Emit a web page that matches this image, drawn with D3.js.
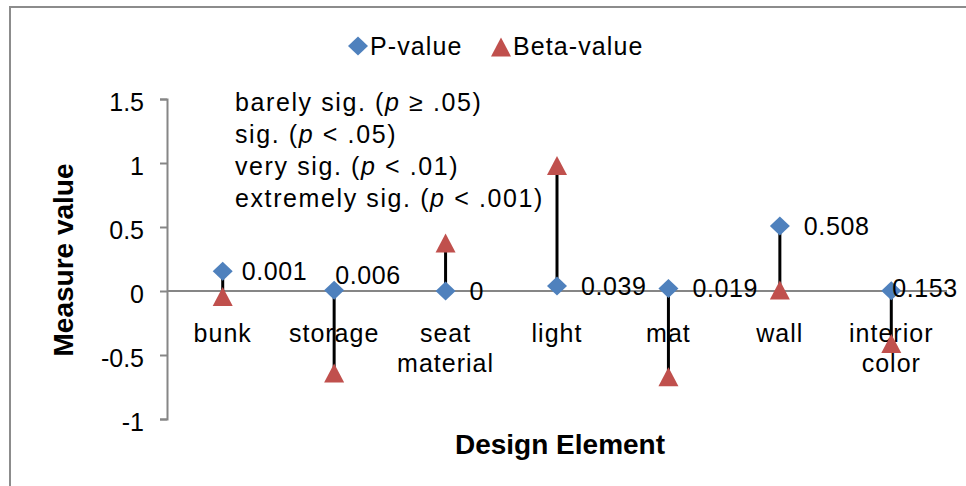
<!DOCTYPE html>
<html>
<head>
<meta charset="utf-8">
<script src="https://cdn.jsdelivr.net/npm/d3@7"></script>
<style>
  body { margin: 0; background: #fff; }
  svg { display: block; font-family: Arial, "Liberation Sans", sans-serif; }
</style>
</head>
<body>
<div id="chart"></div>
<script>
// data
const categories = ["bunk", "storage", "seat material", "light", "mat", "wall", "interior color"];
const pValues = [0.155, 0.006, 0, 0.039, 0.019, 0.508, 0.001];
const pLabels = ["0.001", "0.006", "0", "0.039", "0.019", "0.508", "0.153"];
const betaValues = [-0.043, -0.64, 0.375, 0.98, -0.67, 0.008, -0.41];
const yTicks = [-1, -0.5, 0, 0.5, 1, 1.5];
const seriesNames = ["P-value", "Beta-value"];
const notes = [
    ["barely sig. (", "p", " \u2265 .05)"],
    ["sig. (", "p", " < .05)"],
    ["very sig. (", "p", " < .01)"],
    ["extremely sig. (", "p", " < .001)"]
];

let WIDTH = 966,
    HEIGHT = 486;

const blue = "#4F81BD",
      red = "#C0504D",
      axisGrey = "#868686";

let svg = d3.select("#chart")
    .append("svg")
    .attr("width", WIDTH)
    .attr("height", HEIGHT);

// chart border (runs off the right/bottom edge like the original)
svg.append("rect")
    .attr("x", 10).attr("y", 7)
    .attr("width", 980).attr("height", 500)
    .attr("fill", "#fff")
    .attr("stroke", "#8c8c8c")
    .attr("stroke-width", 2);

let x = d3.scaleBand().domain(categories).range([167, 947]);
let y = d3.scaleLinear().domain([-1, 1.5]).range([419, 99]);
const cx = d => x(d) + x.bandwidth() / 2;

const diamond = "M0,-9.5L10,0L0,9.5L-10,0Z";
const triangle = "M0,-9.5L10,9.5L-10,9.5Z";

// y axis
let yAxis = svg.append("g")
    .attr("transform", "translate(167,0)")
    .call(d3.axisLeft(y).tickValues(yTicks).tickSize(7).tickPadding(16).tickFormat(d => String(d)));
yAxis.select(".domain").attr("stroke", axisGrey).attr("stroke-width", 2);
yAxis.selectAll(".tick line").attr("stroke", axisGrey).attr("stroke-width", 2);
yAxis.selectAll(".tick text")
    .attr("fill", "#000")
    .attr("dy", "0.45em")
    .style("font-size", "25px")
    .style("font-family", "Arial, 'Liberation Sans', sans-serif");

// x axis line at zero
svg.append("line")
    .attr("x1", 167).attr("x2", 947)
    .attr("y1", y(0)).attr("y2", y(0))
    .attr("stroke", axisGrey)
    .attr("stroke-width", 2);

// category labels (wrapped on spaces)
let catText = svg.selectAll("text.cat")
    .data(categories)
    .enter()
    .append("text")
    .attr("class", "cat")
    .attr("text-anchor", "middle")
    .style("font-size", "25px")
    .style("letter-spacing", "1px")
    .attr("y", 342);
catText.each(function (d) {
    let words = d.split(" ");
    d3.select(this).selectAll("tspan")
        .data(words)
        .enter()
        .append("tspan")
        .attr("x", cx(d))
        .attr("dy", (w, i) => i === 0 ? 0 : 30)
        .text(w => w);
});

// drop lines between the two series
svg.selectAll("line.drop")
    .data(categories)
    .enter()
    .append("line")
    .attr("class", "drop")
    .attr("x1", d => cx(d)).attr("x2", d => cx(d))
    .attr("y1", (d, i) => y(pValues[i]))
    .attr("y2", (d, i) => y(betaValues[i]))
    .attr("stroke", "#000")
    .attr("stroke-width", 3);

// beta markers
svg.selectAll("path.beta")
    .data(categories)
    .enter()
    .append("path")
    .attr("class", "beta")
    .attr("d", triangle)
    .attr("fill", red)
    .attr("transform", (d, i) => `translate(${cx(d)},${y(betaValues[i])})`);

// p markers
svg.selectAll("path.p")
    .data(categories)
    .enter()
    .append("path")
    .attr("class", "p")
    .attr("d", diamond)
    .attr("fill", blue)
    .attr("transform", (d, i) => `translate(${cx(d)},${y(pValues[i])})`);

// data labels, a few were dragged by hand in the original
const labelNudge = { "bunk": [-5, 0], "storage": [-23, -15], "interior color": [-23, -3] };
svg.selectAll("text.plabel")
    .data(categories)
    .enter()
    .append("text")
    .attr("class", "plabel")
    .attr("x", d => cx(d) + 24 + (labelNudge[d] ? labelNudge[d][0] : 0))
    .attr("y", (d, i) => y(pValues[i]) + (labelNudge[d] ? labelNudge[d][1] : 0))
    .attr("dy", "0.35em")
    .style("font-size", "25px")
    .style("letter-spacing", "0.6px")
    .text((d, i) => pLabels[i]);

// significance notes
svg.selectAll("text.note")
    .data(notes)
    .enter()
    .append("text")
    .attr("class", "note")
    .attr("x", 235)
    .attr("y", (d, i) => 111 + i * 32)
    .style("font-size", "25px")
    .style("letter-spacing", "1.6px")
    .each(function (d) {
        let t = d3.select(this);
        t.append("tspan").text(d[0]);
        t.append("tspan").style("font-style", "italic").text(d[1]);
        t.append("tspan").text(d[2]);
    });

// legend
let legend = svg.append("g").style("font-size", "25px").style("letter-spacing", "1.1px");
legend.append("path").attr("d", diamond).attr("fill", blue).attr("transform", "translate(358,46)");
legend.append("text").attr("x", 370).attr("y", 55).text(seriesNames[0]);
legend.append("path").attr("d", triangle).attr("fill", red).attr("transform", "translate(501,47)");
legend.append("text").attr("x", 513).attr("y", 55).text(seriesNames[1]);

// axis titles
svg.append("text")
    .attr("x", 560).attr("y", 454)
    .attr("text-anchor", "middle")
    .style("font-size", "28px")
    .style("font-weight", "bold")
    .text("Design Element");

svg.append("text")
    .attr("transform", "translate(73,260) rotate(-90)")
    .attr("text-anchor", "middle")
    .style("font-size", "28px")
    .style("font-weight", "bold")
    .text("Measure value");
</script>
</body>
</html>
